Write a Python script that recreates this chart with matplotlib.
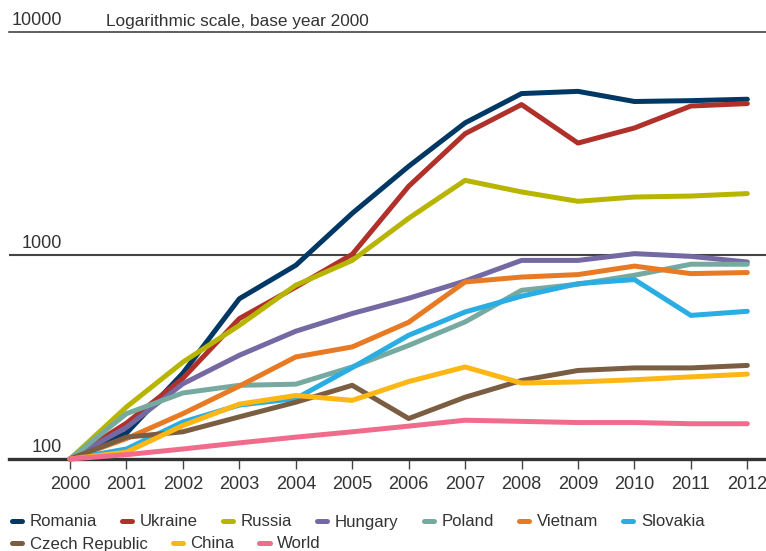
import numpy as np
import matplotlib.pyplot as plt

plt.rcParams['font.family'] = ['Liberation Sans', 'DejaVu Sans']

years = list(range(2000, 2013))

romania = [100, 134, 264, 612, 893, 1607, 2735, 4468, 6223, 6380, 5689, 5744, 5836]
ukraine = [100, 150, 249, 489, 698, 1011, 2182, 3954, 5495, 3556, 4217, 5406, 5557]
russia = [100, 180, 299, 453, 713, 944, 1520, 2333, 2047, 1841, 1932, 1954, 2009]
hungary = [100, 143, 234, 323, 424, 518, 615, 748, 944, 944, 1019, 988, 927]
poland = [100, 167, 211, 230, 233, 283, 361, 471, 673, 721, 798, 904, 904]
vietnam = [100, 126, 167, 228, 317, 355, 469, 740, 782, 804, 885, 813, 823]
slovakia = [100, 112, 152, 184, 198, 281, 405, 527, 630, 726, 760, 507, 531]
czech = [100, 128, 136, 161, 190, 230, 158, 201, 243, 272, 280, 280, 288]
china = [100, 108, 146, 186, 205, 194, 240, 283, 236, 239, 245, 253, 261]
world = [100, 105, 112, 120, 128, 136, 145, 155, 153, 151, 151, 149, 149]

names = ['Romania', 'Ukraine', 'Russia', 'Hungary', 'Poland', 'Vietnam',
         'Slovakia', 'Czech Republic', 'China', 'World']
series = [romania, ukraine, russia, hungary, poland, vietnam,
          slovakia, czech, china, world]
colors = ['#003865', '#B0302A', '#B8B500', '#7569A3', '#76AAA0', '#E87A24',
          '#2AADE3', '#7B5E42', '#FDB714', '#F06B8C']

fig = plt.figure(figsize=(7.66, 5.51), dpi=100)
ax = fig.add_axes([9 / 766, 92 / 551, 757 / 766, 427 / 551])

lines = []
for vals, name, c in zip(series, names, colors):
    ln, = ax.plot(years, vals, color=c, lw=3.6, label=name, clip_on=False,
                  solid_capstyle='round', solid_joinstyle='round', zorder=3)
    lines.append(ln)

ax.set_yscale('log')
top = 10 ** (2 + 427 / 203.7)
ax.set_ylim(100, top)
ax.set_xlim(1998.919, 2012.331)

ax.set_yticks([])
ax.minorticks_off()
ax.set_xticks(years)
ax.tick_params(axis='x', length=7, width=1, color='#444444', pad=5,
               labelsize=13, labelcolor='#333333')

for s in ['left', 'right']:
    ax.spines[s].set_visible(False)
ax.spines['bottom'].set_linewidth(2.4)
ax.spines['bottom'].set_color('#333333')
ax.spines['top'].set_linewidth(1.1)
ax.spines['top'].set_color('#333333')
ax.axhline(1000, color='#444444', lw=1.5, zorder=1)

tc = '#333333'
ax.text(1999.86, 104, '100', ha='right', va='bottom', fontsize=13, color=tc)
ax.text(1999.86, 1040, '1000', ha='right', va='bottom', fontsize=13, color=tc)
ax.text(1999.86, top * 1.04, '10000', ha='right', va='bottom', fontsize=13,
        color=tc, clip_on=False)
ax.text(2000.64, top * 1.04, 'Logarithmic scale, base year 2000', ha='left',
        va='bottom', fontsize=12.4, color=tc, clip_on=False)

kw = dict(frameon=False, fontsize=12.1, handlelength=0.6, handletextpad=0.45,
          columnspacing=1.5, borderpad=0, borderaxespad=0, labelcolor=tc)
leg1 = fig.legend(lines[:7], names[:7], loc='center left', ncol=7,
                  bbox_to_anchor=(12 / 766, 29 / 551), **kw)
leg2 = fig.legend(lines[7:], names[7:], loc='center left', ncol=3,
                  bbox_to_anchor=(12 / 766, 7 / 551), **kw)

fig.savefig('out.png', dpi=100)
